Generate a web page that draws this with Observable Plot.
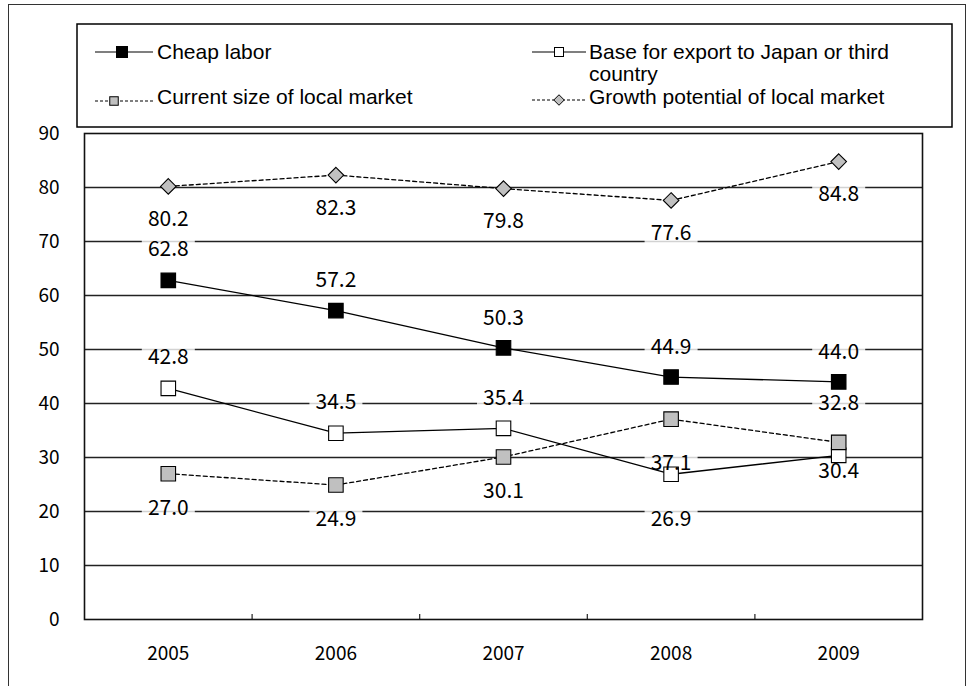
<!DOCTYPE html>
<html>
<head>
<meta charset="utf-8">
<script src="https://cdn.jsdelivr.net/npm/d3@7"></script>
<script src="https://cdn.jsdelivr.net/npm/@observablehq/plot@0.6"></script>
<style>
  body { margin: 0; background: white; }
  #chart { position: relative; width: 972px; height: 686px; overflow: hidden; background: white; }
  #outer { position: absolute; left: 8px; top: 4px; width: 958px; height: 720px; border: 1.5px solid #333; box-sizing: border-box; }
  #plot, #legend { position: absolute; left: 0; top: 0; }
</style>
</head>
<body>
<div id="chart">
  <div id="outer"></div>
  <div id="plot"></div>
  <svg id="legend" width="972" height="135"></svg>
</div>
<script>
// Survey years and the share (%) of firms citing each reason
const years = ["2005", "2006", "2007", "2008", "2009"];
const seriesNames = [
  "Cheap labor",
  "Base for export to Japan or third country",
  "Current size of local market",
  "Growth potential of local market"
];
const cheapLabor = [62.8, 57.2, 50.3, 44.9, 44.0];
const exportBase = [42.8, 34.5, 35.4, 26.9, 30.4];
const currentMarket = [27.0, 24.9, 30.1, 37.1, 32.8];
const growthPotential = [80.2, 82.3, 79.8, 77.6, 84.8];
const yTicks = [0, 10, 20, 30, 40, 50, 60, 70, 80, 90];

// Look of each series
const styles = [
  {fill: "black", dash: null, symbol: "square"},
  {fill: "white", dash: null, symbol: "square"},
  {fill: "#c0c0c0", dash: "4,3", symbol: "square"},
  {fill: "#c0c0c0", dash: "4,3", symbol: "diamond2"}
];
// Vertical offset (px) of each value label from its point
const labelOffsets = [
  [-31, -30, -30, -30, -30],
  [-31, -31, -30, 45, 16],
  [35, 34, 34, 44, -39],
  [33, 33, 33, 33, 33]
];

const allValues = [cheapLabor, exportBase, currentMarket, growthPotential];
const rows = allValues.flatMap((vals, s) =>
  vals.map((v, i) => ({series: seriesNames[s], s, i, year: years[i], value: v}))
);

// Box behind each value label
const labelBox = {draw(ctx) { ctx.rect(-26.5, -10.5, 53, 21); }};

const W = 972, H = 686;
const mTop = 133, mBottom = 67, mLeft = 84, mRight = 50;
const innerH = H - mTop - mBottom;

const marks = [
  Plot.ruleY(yTicks.filter(t => t > 0 && t < 90), {stroke: "#222", strokeWidth: 1.4}),
  Plot.tickX([0.5, 1.5, 2.5, 3.5], {x: d => d, stroke: "#222", strokeWidth: 1.2, insetTop: innerH - 5})
];
// label boxes
rows.forEach(r => {
  marks.push(Plot.dot([r], {x: "i", y: "value", dy: labelOffsets[r.s][r.i], symbol: labelBox,
    fill: "white", fillOpacity: 0.8, stroke: null}));
});
marks.push(Plot.frame({stroke: "#111", strokeWidth: 1.6}));
// series lines
allValues.forEach((vals, s) => {
  marks.push(Plot.line(rows.filter(r => r.s === s), {x: "i", y: "value", stroke: "black",
    strokeWidth: 1.3, strokeDasharray: styles[s].dash}));
});
// markers
allValues.forEach((vals, s) => {
  marks.push(Plot.dot(rows.filter(r => r.s === s), {x: "i", y: "value", symbol: styles[s].symbol,
    r: styles[s].symbol === "square" ? 8.2 : 7, fill: styles[s].fill, stroke: "black", strokeWidth: 1.1}));
});
// value labels
rows.forEach(r => {
  marks.push(Plot.text([r], {x: "i", y: "value", dy: labelOffsets[r.s][r.i],
    text: d => d.value.toFixed(1), fontSize: 21, fill: "black"}));
});
marks.push(
  Plot.axisY({ticks: yTicks, tickSize: 0, tickPadding: 25, fontSize: 19, label: null}),
  Plot.axisX({ticks: [0, 1, 2, 3, 4], tickFormat: i => years[i], tickSize: 0, tickPadding: 27, fontSize: 19, label: null})
);

const chart = Plot.plot({
  width: W, height: H,
  marginTop: mTop, marginBottom: mBottom, marginLeft: mLeft, marginRight: mRight,
  x: {type: "linear", domain: [-0.5, 4.5]},
  y: {domain: [0, 90]},
  style: {fontFamily: "'Noto Sans CJK JP', sans-serif", background: "transparent", color: "black"},
  marks
});
document.getElementById("plot").appendChild(chart);

// Legend
const lg = d3.select("#legend");
lg.append("rect").attr("x", 77).attr("y", 24).attr("width", 875).attr("height", 103)
  .attr("fill", "white").attr("stroke", "black").attr("stroke-width", 1.5);
const legendFont = "'Liberation Sans', Arial, sans-serif";
const legendItems = [
  {s: 0, x0: 95, x1: 153, mx: 122, ly: 52, ty: 52, tx: 157, size: 11, lines: [seriesNames[0]]},
  {s: 1, x0: 532, x1: 586, mx: 559, ly: 52, ty: 52, tx: 589, size: 9, lines: ["Base for export to Japan or third", "country"]},
  {s: 2, x0: 95, x1: 153, mx: 114, ly: 101, ty: 97, tx: 157, size: 8.5, lines: [seriesNames[2]]},
  {s: 3, x0: 532, x1: 586, mx: 559, ly: 100, ty: 97, tx: 589, size: 8.5, lines: [seriesNames[3]]}
];
legendItems.forEach(it => {
  const st = styles[it.s];
  lg.append("line").attr("x1", it.x0).attr("x2", it.x1).attr("y1", it.ly).attr("y2", it.ly)
    .attr("stroke", "black").attr("stroke-width", 1.2).attr("stroke-dasharray", st.dash ? "3,2" : null);
  if (st.symbol === "square") {
    lg.append("rect").attr("x", it.mx - it.size / 2).attr("y", it.ly - it.size / 2)
      .attr("width", it.size).attr("height", it.size)
      .attr("fill", st.fill).attr("stroke", "black").attr("stroke-width", 1);
  } else {
    const h = it.size / 2 + 1;
    lg.append("path").attr("d", `M${it.mx},${it.ly - h}L${it.mx + h},${it.ly}L${it.mx},${it.ly + h}L${it.mx - h},${it.ly}Z`)
      .attr("fill", st.fill).attr("stroke", "black").attr("stroke-width", 1);
  }
  it.lines.forEach((t, k) => {
    lg.append("text").attr("x", it.tx).attr("y", it.ty + k * 22).attr("dy", "0.35em")
      .attr("font-family", legendFont).attr("font-size", 21).attr("fill", "black").text(t);
  });
});
</script>
</body>
</html>
